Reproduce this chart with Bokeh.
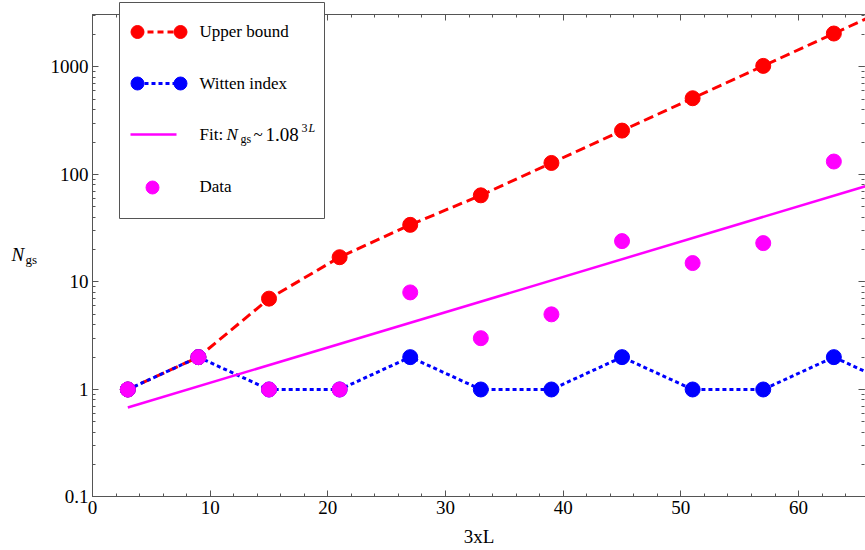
from bokeh.plotting import figure
from bokeh.models import (Range1d, LinearScale, LinearAxis, LogAxis, SingleIntervalTicker, LogTicker,
                          CustomJSTickFormatter, BoxAnnotation, Label)
from bokeh.embed import file_html
from bokeh.resources import INLINE

# ---------------- data ----------------
three_L = [3, 9, 15, 21, 27, 33, 39, 45, 51, 57, 63, 69]
upper_bound = [1, 2, 7, 17, 34, 64, 128, 256, 512, 1024, 2048, 4096]
witten_index = [1, 2, 1, 1, 2, 1, 1, 2, 1, 1, 2, 1]
data_x = [3, 9, 15, 21, 27, 33, 39, 45, 51, 57, 63]
data_ngs = [1, 2, 1, 1, 8, 3, 5, 24, 15, 23, 132]
fit_x = [3, 69]
fit_y = [0.68, 100]
legend_labels = ["Upper bound", "Witten index", "Fit:", "Data"]
x_label = "3xL"
x_axis_span = (0, 65.69)
y_axis_span = (0.1, 3050)

# ---------------- layout ----------------
W, H = 865, 550
FONT = "Liberation Serif"
AX = "#555555"
RED, BLUE, MAG = "#ff0000", "#0000ff", "#ff00ff"

p = figure(width=W, height=H, frame_width=W, frame_height=H,
           x_range=Range1d(-7.819, 65.69), y_range=Range1d(0.03178, 4155),
           y_axis_type="log", x_axis_location=None, y_axis_location=None,
           output_backend="svg", toolbar_location=None,
           min_border=0, min_border_left=0, min_border_right=0,
           min_border_top=0, min_border_bottom=0)
p.xgrid.visible = False
p.ygrid.visible = False
p.outline_line_color = None
p.background_fill_color = "white"
p.border_fill_color = "white"

p.extra_x_ranges = {"px": Range1d(0, W)}
p.extra_y_ranges = {"py": Range1d(0, H)}
p.extra_x_scales = {"px": LinearScale()}
p.extra_y_scales = {"py": LinearScale()}

blank = CustomJSTickFormatter(code="return '';")

def style(ax):
    ax.axis_line_color = AX
    ax.major_tick_line_color = AX
    ax.minor_tick_line_color = AX
    ax.major_tick_in = 6
    ax.major_tick_out = 0
    ax.minor_tick_in = 3
    ax.minor_tick_out = 0
    ax.major_label_text_font = FONT
    ax.major_label_text_font_size = "19px"
    ax.major_label_text_color = "black"

xb = LinearAxis(ticker=SingleIntervalTicker(interval=10, num_minor_ticks=5),
                fixed_location=y_axis_span[0], bounds=x_axis_span)
style(xb)
xb.major_label_standoff = 4
xb.axis_label = x_label
xb.axis_label_text_font = FONT
xb.axis_label_text_font_size = "19px"
xb.axis_label_text_font_style = "normal"
xb.axis_label_text_color = "black"
xb.axis_label_standoff = 9
p.add_layout(xb, "below")

yl = LogAxis(ticker=LogTicker(num_minor_ticks=10),
             fixed_location=x_axis_span[0], bounds=y_axis_span)
style(yl)
yl.formatter = CustomJSTickFormatter(code="return tick < 1 ? tick.toFixed(1) : tick.toFixed(0);")
yl.major_label_standoff = 4
p.add_layout(yl, "left")

xt = LinearAxis(ticker=SingleIntervalTicker(interval=10, num_minor_ticks=5),
                fixed_location=y_axis_span[1], bounds=x_axis_span, formatter=blank)
style(xt)
p.add_layout(xt, "above")

yr = LogAxis(ticker=LogTicker(num_minor_ticks=10),
             fixed_location=65.6, bounds=y_axis_span, formatter=blank)
style(yr)
yr.axis_line_color = None
p.add_layout(yr, "right")

# ---------------- data marks ----------------
p.line(three_L, upper_bound, color=RED, line_width=3, line_dash="10 5")
p.scatter(three_L, upper_bound, size=15, color=RED)
p.line(three_L, witten_index, color=BLUE, line_width=3, line_dash="4 3")
p.scatter(three_L, witten_index, size=15, color=BLUE)
p.line(fit_x, fit_y, color=MAG, line_width=2.5)
p.scatter(data_x, data_ngs, size=15, color=MAG)

# ---------------- legend ----------------
box = BoxAnnotation(left=119, right=324, bottom=332, top=548,
                    left_units="screen", right_units="screen",
                    bottom_units="screen", top_units="screen",
                    fill_color="white", fill_alpha=1.0,
                    line_color=AX, line_width=1, line_alpha=1.0)
p.add_layout(box)

kw = dict(x_range_name="px", y_range_name="py", level="overlay")
r1, r2, r3, r4 = 518.5, 467, 416, 363
p.line([137, 180], [r1, r1], color=RED, line_width=3, line_dash="6 4", **kw)
p.scatter([137, 180], [r1, r1], size=13, color=RED, **kw)
p.line([137, 180], [r2, r2], color=BLUE, line_width=3, line_dash="4 3", **kw)
p.scatter([137, 180], [r2, r2], size=13, color=BLUE, **kw)
p.line([130, 176], [r3, r3], color=MAG, line_width=2.5, **kw)
p.scatter([152], [r4], size=13, color=MAG, **kw)

DY = 6  # baseline correction

def lab(x, y, text, size="17px", style="normal", align="left"):
    p.add_layout(Label(x=x, y=y + DY, x_units="screen", y_units="screen", text=text,
                       text_font=FONT, text_font_size=size, text_font_style=style,
                       text_color="black", text_align=align, text_baseline="alphabetic",
                       level="overlay"))

lab(199, 513, legend_labels[0])
lab(199, 461, legend_labels[1])
lab(199, 410, legend_labels[2])
lab(226, 410, "N", style="italic")
lab(240, 406, "gs", size="12px")
lab(253, 410, "~")
lab(265, 410, "1.08", size="19px")
lab(301, 417, "3", size="12px")
lab(308, 417, "L", size="12px", style="italic")
lab(199, 358, legend_labels[3])

# y axis label
lab(11, 290, "N", size="19px", style="italic")
lab(25, 285, "gs", size="13px")

open("out.html", "w").write(file_html(p, INLINE))
